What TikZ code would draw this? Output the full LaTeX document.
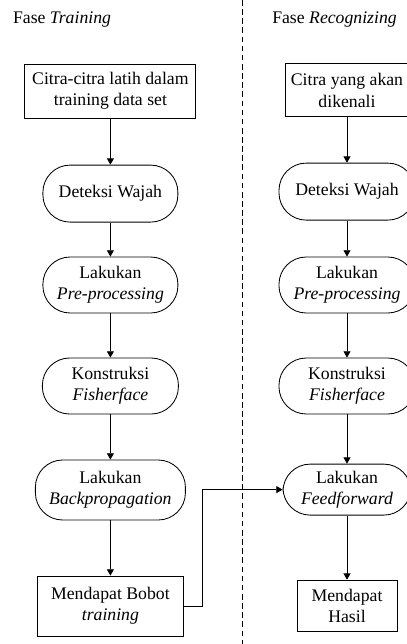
\documentclass[tikz,border=0pt]{standalone}
\usepackage{fontspec}
\setmainfont{Liberation Serif}
\usetikzlibrary{positioning, arrows.meta}

\begin{document}
\begin{tikzpicture}[
  font=\fontsize{12.6}{15}\selectfont,
  kotak/.style={draw, rectangle, align=center, inner sep=2pt, line width=0.6pt},
  proses/.style={draw, rectangle, rounded corners=0.68cm, align=center, inner sep=2pt, line width=0.6pt},
  panah/.style={-{Triangle[length=4.5pt,width=5pt]}, line width=0.6pt}
]
\useasboundingbox (0,0) rectangle (10.15,-16.1);
% garis pemisah
\coordinate (gt) at (6.05,0);
\coordinate (gb) at (6.05,-16.1);
\draw[dash pattern=on 4pt off 2.5pt, line width=0.6pt] (gt) -- (gb);
% judul fase
\node[anchor=base west, inner sep=0] (jkiri) at (0.32,-0.575) {Fase \textit{Training}};
\node[anchor=base west, inner sep=0] (jkanan) at (6.8,-0.575) {Fase \textit{Recognizing}};
% fase training (kiri)
\node[kotak, minimum width=4.275cm, minimum height=1.35cm] (c1) at (2.76,-2.275) {Citra-citra latih dalam\\training data set};
\node[proses, minimum width=3.375cm, minimum height=1.425cm] (d1) at (2.76,-4.84) {Deteksi Wajah};
\node[proses, minimum width=3.375cm, minimum height=1.4cm] (p1) at (2.76,-7.125) {Lakukan\\\textit{Pre-processing}};
\node[proses, minimum width=3.4cm, minimum height=1.4cm] (f1) at (2.76,-9.65) {Konstruksi\\\textit{Fisherface}};
\node[proses, minimum width=3.75cm, minimum height=1.5cm] (b1) at (2.76,-12.25) {Lakukan\\\textit{Backpropagation}};
\node[kotak, minimum width=3.65cm, minimum height=1.5cm] (m1) at (2.76,-15.15) {Mendapat Bobot\\\textit{training}};
\draw[panah] (c1) -- (d1);
\draw[panah] (d1) -- (p1);
\draw[panah] (p1) -- (f1);
\draw[panah] (f1) -- (b1);
\draw[panah] (b1) -- (m1);
% fase recognizing (kanan)
\node[kotak, minimum width=3.1cm, minimum height=1.325cm] (c2) at (8.675,-2.26) {Citra yang akan\\dikenali};
\node[proses, minimum width=3.4cm, minimum height=1.425cm] (d2) at (8.675,-4.79) {Deteksi Wajah};
\node[proses, minimum width=3.4cm, minimum height=1.4cm] (p2) at (8.675,-7.125) {Lakukan\\\textit{Pre-processing}};
\node[proses, minimum width=3.4cm, minimum height=1.4cm] (f2) at (8.675,-9.65) {Konstruksi\\\textit{Fisherface}};
\node[proses, minimum width=3.2cm, minimum height=1.275cm] (ff2) at (8.675,-12.24) {Lakukan\\\textit{Feedforward}};
\node[kotak, minimum width=2.5cm, minimum height=1.275cm] (m2) at (8.675,-15.14) {Mendapat\\Hasil};
\draw[panah] (c2) -- (d2);
\draw[panah] (d2) -- (p2);
\draw[panah] (p2) -- (f2);
\draw[panah] (f2) -- (ff2);
\draw[panah] (ff2) -- (m2);
% bobot ke feedforward
\draw[panah] (m1.east) -- ++(0.475,0) |- (ff2.west);
\end{tikzpicture}
\end{document}
